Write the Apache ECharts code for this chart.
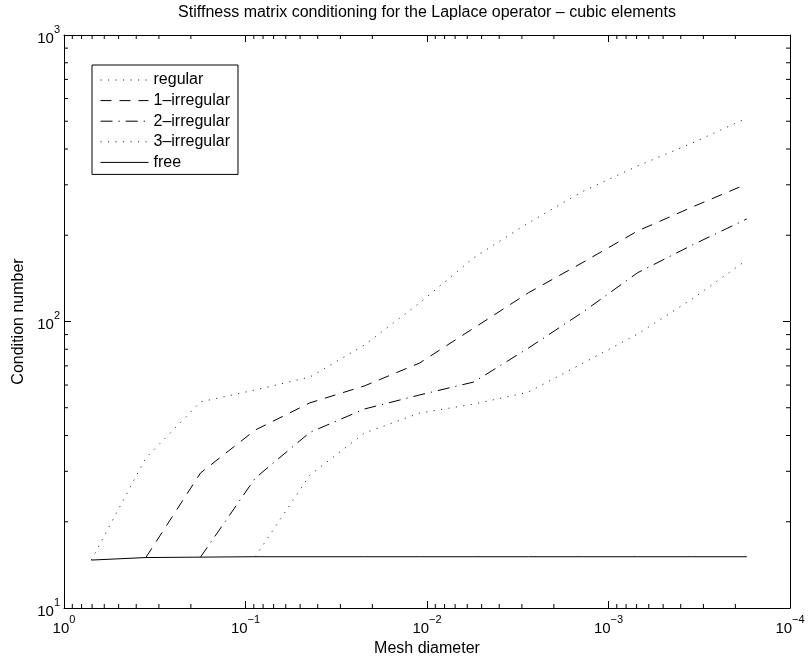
<!DOCTYPE html>
<html>
<head>
<meta charset="UTF-8">
<title>Stiffness matrix conditioning</title>
<script src="https://cdn.jsdelivr.net/npm/echarts@6/dist/echarts.min.js"></script>
<style>
  body { margin: 0; padding: 0; background: #fff; }
  #chart { width: 809px; height: 658px; }
</style>
</head>
<body>
<div id="chart"></div>
<script>
// mesh diameters (halved at each refinement)
const meshDiameter = [0.707, 0.354, 0.177, 0.0884, 0.0442, 0.0221, 0.0110, 0.00552, 0.00276, 0.00138, 0.000691, 0.000345, 0.000173];

// condition numbers (null = no value yet)
const regular    = [14.7, 33.4, 52.4, 57.7, 64.0, 82.8, 116, 167, 221, 285, 349, 420, 513];
const irregular1 = [null, 15.0, 29.6, 41.8, 52.0, 59.6, 71.6, 94.9, 126, 161, 207, 251, 302];
const irregular2 = [null, null, 15.05, 28.4, 41.0, 49.5, 55.4, 61.5, 80.8, 108, 148, 185, 228];
const irregular3 = [null, null, null, 15.1, 29.1, 40.8, 47.9, 51.5, 56.7, 71.6, 90.4, 120, 164];
const free       = [14.7, 15.0, 15.05, 15.1, 15.1, 15.1, 15.1, 15.1, 15.1, 15.1, 15.1, 15.1, 15.1];

const seriesNames = ['regular', '1\u2013irregular', '2\u2013irregular', '3\u2013irregular', 'free'];

const FONT = '"Liberation Sans", Arial, Helvetica, sans-serif';

function pairs(ys) {
    return meshDiameter.map((x, i) => [x, ys[i]]).filter(p => p[1] != null);
}

function powLabel(v) {
    const e = Math.round(Math.log10(v));
    return '{b|10}{s|' + (e < 0 ? '\u2212' + (-e) : e) + '}';
}

const labelRich = {
    b: { fontSize: 15, fontFamily: FONT, color: '#000', lineHeight: 22, verticalAlign: 'bottom' },
    s: { fontSize: 11, fontFamily: FONT, color: '#000', lineHeight: 6, verticalAlign: 'top' }
};

function baseXAxis(pos) {
    return {
        type: 'log', logBase: 10, min: 1e-4, max: 1, inverse: true,
        position: pos,
        axisLine: { show: true, onZero: false, lineStyle: { color: '#000', width: 1 } },
        axisTick: { show: true, inside: true, length: 7, lineStyle: { color: '#000' } },
        splitLine: { show: false },
        axisLabel: { show: false }
    };
}

function baseYAxis(pos) {
    return {
        type: 'log', logBase: 10, min: 10, max: 1000,
        position: pos,
        axisLine: { show: true, onZero: false, lineStyle: { color: '#000', width: 1 } },
        axisTick: { show: true, inside: true, length: 7, lineStyle: { color: '#000' } },
        splitLine: { show: false },
        axisLabel: { show: false }
    };
}

const xBottom = baseXAxis('bottom');
xBottom.name = 'Mesh diameter';
xBottom.nameLocation = 'middle';
xBottom.nameGap = 33;
xBottom.nameTextStyle = { fontSize: 16, fontFamily: FONT, color: '#000' };
xBottom.axisLabel = { show: true, margin: 6, formatter: powLabel, rich: labelRich };

const yLeft = baseYAxis('left');
yLeft.name = 'Condition number';
yLeft.nameLocation = 'middle';
yLeft.nameGap = 35;
yLeft.nameTextStyle = { fontSize: 16, fontFamily: FONT, color: '#000' };
yLeft.axisLabel = { show: true, margin: 4, formatter: powLabel, rich: labelRich };

const lineStyles = [
    { color: '#333', width: 1, type: [1.2, 6.3] },
    { color: '#000', width: 1, type: [11, 8] },
    { color: '#000', width: 1, type: [12, 6, 1.2, 6] },
    { color: '#333', width: 1, type: [1.2, 6.3] },
    { color: '#000', width: 1, type: 'solid' }
];
const seriesData = [regular, irregular1, irregular2, irregular3, free];

const chart = echarts.init(document.getElementById('chart'), null, { renderer: 'canvas' });

chart.setOption({
    animation: false,
    backgroundColor: '#fff',
    grid: { left: 64, right: 19, top: 35, bottom: 50, containLabel: false, outerBoundsMode: 'none' },
    legend: {
        orient: 'vertical',
        left: 92, top: 65,
        data: seriesNames,
        backgroundColor: '#fff',
        borderColor: '#000', borderWidth: 1,
        padding: [7, 8, 4, 8],
        itemWidth: 48, itemHeight: 14, itemGap: 4.6,
        itemStyle: { opacity: 0 },
        lineStyle: { width: 1 },
        textStyle: { fontSize: 16, fontFamily: FONT, color: '#000' },
        selectedMode: false
    },
    xAxis: [xBottom, baseXAxis('top')],
    yAxis: [yLeft, baseYAxis('right')],
    series: seriesNames.map((name, i) => ({
        name: name,
        type: 'line',
        xAxisIndex: 0, yAxisIndex: 0,
        symbol: 'none',
        symbolSize: 0,
        lineStyle: lineStyles[i],
        itemStyle: { color: lineStyles[i].color },
        data: pairs(seriesData[i])
    }))
});

// minor ticks at 2..9 x 10^k, placed through the axis scales
const minorLines = [];
const xl = chart.convertToPixel({ xAxisIndex: 0 }, 1);
const xr = chart.convertToPixel({ xAxisIndex: 0 }, 1e-4);
const yb = chart.convertToPixel({ yAxisIndex: 0 }, 10);
const yt = chart.convertToPixel({ yAxisIndex: 0 }, 1000);
const tick = (a, b, c, d) => ({ type: 'line', silent: true, shape: { x1: a, y1: b, x2: c, y2: d }, style: { stroke: '#000', lineWidth: 1 } });
for (let d = -4; d < 0; d++) {
    for (let m = 2; m <= 9; m++) {
        const px = chart.convertToPixel({ xAxisIndex: 0 }, m * Math.pow(10, d));
        minorLines.push(tick(px, yb, px, yb - 4));
        minorLines.push(tick(px, yt, px, yt + 4));
    }
}
for (let d = 1; d < 3; d++) {
    for (let m = 2; m <= 9; m++) {
        const py = chart.convertToPixel({ yAxisIndex: 0 }, m * Math.pow(10, d));
        minorLines.push(tick(xl, py, xl + 4, py));
        minorLines.push(tick(xr, py, xr - 4, py));
    }
}

chart.setOption({
    graphic: minorLines.concat([{
        type: 'text',
        x: (xl + xr) / 2, y: 13,
        style: {
            text: 'Stiffness matrix conditioning for the Laplace operator \u2013 cubic elements',
            font: '16px ' + FONT,
            fill: '#000',
            textAlign: 'center',
            textVerticalAlign: 'middle'
        }
    }])
});
</script>
</body>
</html>
